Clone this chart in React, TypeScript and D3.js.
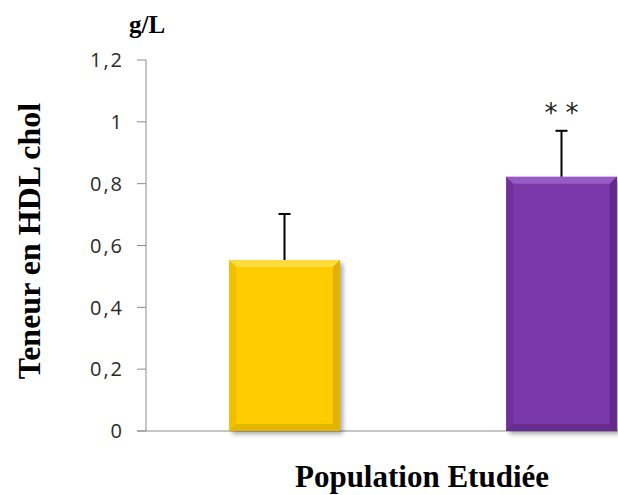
import React from "react";
import { scaleBand, scaleLinear } from "d3";

const groups = ["Témoins", "Patients"];
const means = [0.553, 0.822];
const errors = [0.149, 0.149];
const colors = ["#FFCC00", "#7A37A8"];
const lights = ["#FFE04D", "#A064CC"];
const darks = ["#D4A600", "#5A2580"];
const stars = ["", "**"];
const yTicks = [0, 0.2, 0.4, 0.6, 0.8, 1, 1.2];

const W = 618;
const H = 495;
const margin = { top: 60, left: 146, bottom: 63 };

const App = () => {
  const y = scaleLinear()
    .domain([0, 1.2])
    .range([H - margin.bottom - 1, margin.top]);

  const x = scaleBand()
    .domain(groups)
    .range([margin.left, margin.left + 554])
    .paddingInner(0.6)
    .paddingOuter(0.3);

  const bw = x.bandwidth();
  const bev = 7;

  return (
    <svg
      width={W}
      height={H}
      style={{ position: "absolute", left: 0, top: 0, background: "#fff" }}
    >
      <defs>
        <filter id="shadow" x="-10%" y="-10%" width="130%" height="130%">
          <feGaussianBlur in="SourceAlpha" stdDeviation="2.5" />
          <feOffset dx="3" dy="3" result="b" />
          <feComponentTransfer>
            <feFuncA type="linear" slope="0.35" />
          </feComponentTransfer>
          <feMerge>
            <feMergeNode />
            <feMergeNode in="SourceGraphic" />
          </feMerge>
        </filter>
      </defs>

      {/* y axis */}
      <line
        x1={margin.left}
        x2={margin.left}
        y1={y(1.2)}
        y2={y(0)}
        stroke="#8c8c8c"
        strokeWidth={1}
      />
      <line
        x1={margin.left - 9}
        x2={W}
        y1={y(0)}
        y2={y(0)}
        stroke="#8c8c8c"
        strokeWidth={1}
      />
      {yTicks.map((t) => (
        <g key={t}>
          <line
            x1={margin.left - 9}
            x2={margin.left}
            y1={y(t)}
            y2={y(t)}
            stroke="#8c8c8c"
          />
          <text
            x={margin.left - 22}
            y={y(t)}
            dy="0.36em"
            textAnchor="end"
            fontFamily="'Open Sans', sans-serif"
            fontSize={20}
            letterSpacing={2}
            fill="#2a2a2a"
          >
            {String(t).replace(".", ",")}
          </text>
        </g>
      ))}

      {/* bars */}
      {groups.map((g, i) => {
        const x0 = x(g)!;
        const x1 = x0 + bw;
        const y0 = y(means[i]);
        const yb = y(0);
        const cx = x0 + bw / 2;
        const ye = y(means[i] + errors[i]);
        const st = stars[i].split("");
        return (
          <g key={g}>
            <line x1={cx} x2={cx} y1={ye} y2={y0} stroke="#000" strokeWidth={2} />
            <line x1={cx - 6} x2={cx + 6} y1={ye} y2={ye} stroke="#000" strokeWidth={2} />
            <g filter="url(#shadow)">
              <rect x={x0} y={y0} width={bw} height={yb - y0} fill={colors[i]} />
            </g>
            <polygon
              points={`${x0},${y0} ${x1},${y0} ${x1 - bev},${y0 + bev} ${x0 + bev},${y0 + bev}`}
              fill={lights[i]}
              opacity={0.8}
            />
            <polygon
              points={`${x0},${y0} ${x0 + bev},${y0 + bev} ${x0 + bev},${yb - bev} ${x0},${yb}`}
              fill={darks[i]}
              opacity={0.35}
            />
            <polygon
              points={`${x1},${y0} ${x1 - bev},${y0 + bev} ${x1 - bev},${yb - bev} ${x1},${yb}`}
              fill={darks[i]}
              opacity={0.7}
            />
            <polygon
              points={`${x0},${yb} ${x0 + bev},${yb - bev} ${x1 - bev},${yb - bev} ${x1},${yb}`}
              fill={darks[i]}
              opacity={0.6}
            />
            {st.map((s, k) => (
              <text
                key={k}
                x={cx + (k - (st.length - 1) / 2) * 21}
                y={ye - 9}
                textAnchor="middle"
                fontFamily="'DejaVu Sans', sans-serif"
                fontSize={26}
                fill="#222"
              >
                {s}
              </text>
            ))}
          </g>
        );
      })}

      {/* labels */}
      <text
        x={147}
        y={33}
        textAnchor="middle"
        fontFamily="'Liberation Serif', serif"
        fontWeight="bold"
        fontSize={25}
        fill="#000"
      >
        g/L
      </text>
      <text
        transform={`translate(40, 241) rotate(-90)`}
        textAnchor="middle"
        fontFamily="'Liberation Serif', serif"
        fontWeight="bold"
        fontSize={32}
        fill="#000"
      >
        Teneur en HDL chol
      </text>
      <text
        x={422}
        y={487}
        textAnchor="middle"
        fontFamily="'Liberation Serif', serif"
        fontWeight="bold"
        fontSize={31}
        fill="#000"
      >
        Population Etudiée
      </text>
    </svg>
  );
};

export default App;
